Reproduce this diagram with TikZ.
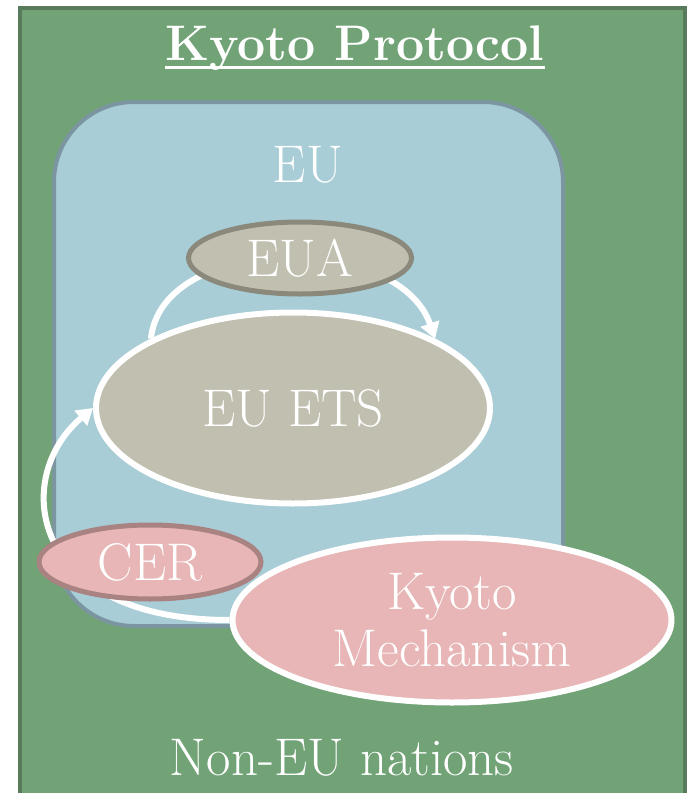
\documentclass[tikz,border=0pt]{standalone}
\usepackage{fontspec}
\usetikzlibrary{shapes.geometric,arrows.meta}
\pgfdeclarelayer{bg}
\pgfdeclarelayer{mid}
\pgfsetlayers{bg,mid,main}
\definecolor{kgreen}{HTML}{71A377}
\definecolor{kgreenb}{HTML}{587C5B}
\definecolor{eublue}{HTML}{A8CDD6}
\definecolor{eublueb}{HTML}{7B96A0}
\definecolor{etsfill}{HTML}{C1BFB0}
\definecolor{euab}{HTML}{8A897C}
\definecolor{kpink}{HTML}{E8B6B6}
\definecolor{cerb}{HTML}{A98282}
\begin{document}
\begin{tikzpicture}[x=0.5pt,y=0.5pt,
  bigtext/.style={text=white,font=\fontsize{26.5}{28.5}\selectfont},
  oval/.style={ellipse,inner sep=0pt,bigtext,align=center},
  flow/.style={white,line width=3pt,-{Triangle[length=8pt,width=9.5pt]}}]
\useasboundingbox (0,0) rectangle (688,-793);
\begin{pgfonlayer}{bg}
\clip (0,0) rectangle (688,-793);
\draw[fill=kgreen,draw=kgreenb,line width=2pt] (20,-8) rectangle (685,-820);
\node[draw=eublueb,fill=eublue,line width=2pt,rounded corners=40pt,
      minimum width=254.5pt,minimum height=262pt,inner sep=0pt] (eu) at (308.5,-364) {};
\end{pgfonlayer}
\node[bigtext,font=\bfseries\fontsize{25}{30}\selectfont,inner sep=0pt] (title) at (355,-48) {Kyoto Protocol};
\draw[white,line width=1.5pt] ([yshift=-3.5pt]title.base west) -- ([yshift=-3.5pt]title.base east);
\node[bigtext] (eulabel) at (308,-165) {EU};
\node[oval,draw=euab,fill=etsfill,line width=2.5pt,minimum width=111.5pt,minimum height=36pt] (eua) at (300,-258) {EUA};
\node[oval,draw=white,fill=etsfill,line width=3pt,minimum width=197pt,minimum height=95.5pt] (ets) at (293,-408) {EU ETS};
\node[oval,draw=cerb,fill=kpink,line width=2.5pt,minimum width=111pt,minimum height=37pt] (cer) at (150,-562) {CER};
\node[oval,draw=white,fill=kpink,line width=3pt,minimum width=219.5pt,minimum height=82.5pt] (km) at (452,-620) {Kyoto\\Mechanism};
\node[bigtext] (noneu) at (342,-758) {Non-EU nations};
\begin{pgfonlayer}{mid}
\draw[flow] (ets.154) .. controls +(84:106) and +(109:113) .. (ets.26);
\draw[flow] (km.180) .. controls +(180:202) and +(220:107) .. (ets.180);
\end{pgfonlayer}
\end{tikzpicture}
\end{document}
